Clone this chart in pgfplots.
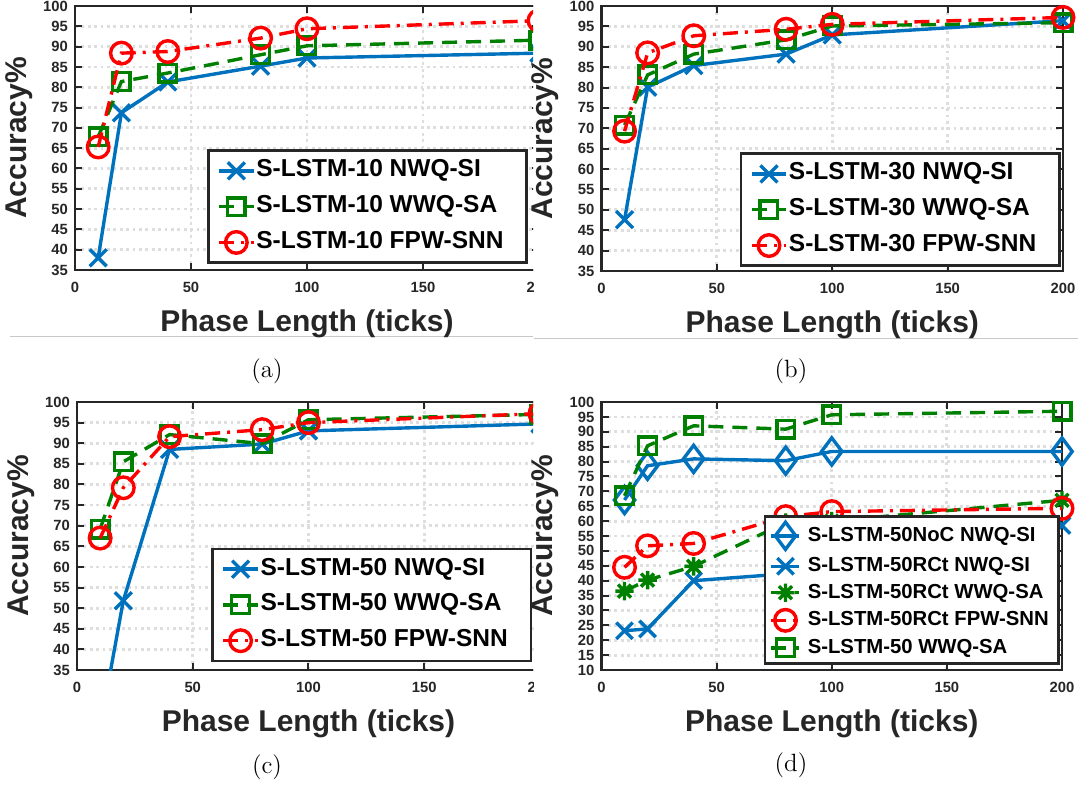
\documentclass[border=0pt]{standalone}
\usepackage{fontspec}
\setsansfont{Liberation Sans}
\usepackage{pgfplots}
\pgfplotsset{compat=1.18}
\definecolor{mblue}{RGB}{0,114,189}
\definecolor{mgreen}{RGB}{0,128,0}
\definecolor{mred}{RGB}{255,0,0}
\definecolor{axc}{RGB}{38,38,38}
\definecolor{gridc}{RGB}{222,222,222}
\definecolor{sepc}{RGB}{200,200,200}

\pgfdeclareplotmark{ast8}{%
  \pgfpathmoveto{\pgfqpoint{-\pgfplotmarksize}{0pt}}%
  \pgfpathlineto{\pgfqpoint{\pgfplotmarksize}{0pt}}%
  \pgfpathmoveto{\pgfqpoint{0pt}{-\pgfplotmarksize}}%
  \pgfpathlineto{\pgfqpoint{0pt}{\pgfplotmarksize}}%
  \pgfpathmoveto{\pgfqpoint{-0.7071\pgfplotmarksize}{-0.7071\pgfplotmarksize}}%
  \pgfpathlineto{\pgfqpoint{0.7071\pgfplotmarksize}{0.7071\pgfplotmarksize}}%
  \pgfpathmoveto{\pgfqpoint{-0.7071\pgfplotmarksize}{0.7071\pgfplotmarksize}}%
  \pgfpathlineto{\pgfqpoint{0.7071\pgfplotmarksize}{-0.7071\pgfplotmarksize}}%
  \pgfusepathqstroke}

\pgfplotsset{
  mplot/.style={
    scale only axis, anchor=south west,
    xmin=0, xmax=200, xtick={0,50,100,150,200},
    axis line style={line width=1.45pt, color=axc},
    tick align=inside, major tick length=3.5pt,
    tick style={line width=1pt, color=axc},
    grid=major,
    major grid style={line width=1.4pt, dash pattern=on 1.4pt off 1.8pt, color=gridc},
    clip mode=individual,
    /pgf/number format/assume math mode=true,
    tick label style={font=\sffamily\bfseries\fontsize{7.4}{8}\selectfont, text=axc},
    xticklabel style={inner sep=0pt, yshift=-6pt},
    yticklabel style={inner sep=0pt, xshift=-3.4pt},
    xlabel={Phase Length (ticks)}, ylabel={Accuracy\%},
    label style={font=\sffamily\bfseries\fontsize{15}{18}\selectfont, text=axc, inner sep=0pt},
    xlabel style={at={(axis description cs:0.5,0)}, anchor=north, yshift=-19.5pt},
    ylabel style={at={(axis description cs:-0.091,0.5)}, anchor=south},
    legend cell align=left,
    legend style={draw=axc, line width=1.3pt, fill=white,
      font=\sffamily\bfseries\fontsize{12.25}{14}\selectfont, text=black,
      inner xsep=4.5pt, inner ysep=4.1pt, row sep=5.9pt,
      nodes={inner sep=0pt, text height=9pt, text depth=3pt}, anchor=south east},
    legend image code/.code={\draw[mark repeat=2,mark phase=2] plot coordinates {(0pt,0pt) (8.6pt,0pt) (17.25pt,0pt)};\path (17.75pt,0pt);},
  },
  nwq/.style={color=mblue, line width=1.7pt, solid, mark=x, mark size=6pt, mark options={solid}},
  wwq/.style={color=mgreen, line width=1.7pt, dash pattern=on 7.5pt off 4.5pt, mark=square, mark size=4.4pt, mark options={solid}},
  fpw/.style={color=mred, line width=1.7pt, dash pattern=on 7.5pt off 3.5pt on 1.5pt off 3.5pt, mark=o, mark size=5.4pt, mark options={solid}},
  noc/.style={color=mblue, line width=1.7pt, solid, mark=diamond, mark size=6.8pt, mark options={solid}},
  rast/.style={color=mgreen, line width=1.7pt, dash pattern=on 7.5pt off 4.5pt, mark=ast8, mark size=4.6pt, mark options={solid}},
}

\begin{document}
\begin{tikzpicture}
\path[use as bounding box] (0pt,0pt) rectangle (542pt,-394pt);
\draw[sepc, line width=0.6pt] (5pt,-168.35pt) -- (266.5pt,-168.35pt);
\draw[sepc, line width=0.6pt] (267pt,-169.15pt) -- (539pt,-169.15pt);

% (a)
\begin{scope}
\clip (-5pt,5pt) rectangle (266.5pt,-170pt);
\begin{axis}[mplot, at={(37.5pt,-135pt)}, width=232pt, height=132pt,
  ymin=35, ymax=100, ytick={35,40,...,100},
  legend style={at={(axis description cs:0.976,0.023)}}]
\addplot[nwq] coordinates {(10,38) (20,73.7) (40,81.3) (80,85.2) (100,87.2) (200,88.4)};
\addplot[wwq] coordinates {(10,67.8) (20,81.4) (40,83.5) (80,88) (100,90.2) (200,91.6)};
\addplot[fpw] coordinates {(10,65.3) (20,88.4) (40,88.8) (80,92.1) (100,94.4) (200,96.4)};
\legend{S-LSTM-10 NWQ-SI\hspace*{7pt}, S-LSTM-10 WWQ-SA\hspace*{7pt}, S-LSTM-10 FPW-SNN\hspace*{7pt}}
\end{axis}
\end{scope}

% (b)
\begin{axis}[mplot, at={(300.75pt,-135.5pt)}, width=230.75pt, height=132.5pt,
  ymin=35, ymax=100, ytick={35,40,...,100},
  legend style={at={(axis description cs:0.9946,0.015)}}]
\addplot[nwq] coordinates {(10,47.6) (20,80.1) (40,85.4) (80,88.2) (100,92.9) (200,96.4)};
\addplot[wwq] coordinates {(10,70.8) (20,83.1) (40,88.2) (80,91.7) (100,95.1) (200,95.9)};
\addplot[fpw] coordinates {(10,69.3) (20,88.5) (40,92.7) (80,94.3) (100,95.5) (200,97.2)};
\legend{S-LSTM-30 NWQ-SI\hspace*{7pt}, S-LSTM-30 WWQ-SA\hspace*{7pt}, S-LSTM-30 FPW-SNN\hspace*{7pt}}
\end{axis}

% (c)
\begin{scope}
\clip (-5pt,-170pt) rectangle (266.5pt,-400pt);
\begin{axis}[mplot, at={(38.5pt,-335pt)}, width=231.5pt, height=134pt,
  ymin=35, ymax=100, ytick={35,40,...,100},
  legend style={at={(axis description cs:0.983,0.029)}}]
\addplot[nwq, mark=none, forget plot] coordinates {(10,21) (20,51.8)};
\addplot[nwq] coordinates {(20,51.8) (40,88.5) (80,89.8) (100,93) (200,94.7)};
\addplot[wwq] coordinates {(10,69.2) (20,85.5) (40,92.1) (80,89.9) (100,95.7) (200,97)};
\addplot[fpw] coordinates {(10,67) (20,79.2) (40,91.6) (80,93.3) (100,95) (200,97.2)};
\legend{S-LSTM-50 NWQ-SI\hspace*{7pt}, S-LSTM-50 WWQ-SA\hspace*{7pt}, S-LSTM-50 FPW-SNN\hspace*{7pt}}
\end{axis}
\end{scope}

% (d)
\begin{axis}[mplot, at={(300.75pt,-335pt)}, width=230.25pt, height=134pt,
  ymin=10, ymax=100, ytick={10,15,...,100},
  legend style={at={(axis description cs:0.9957,0.019)},
    font=\sffamily\bfseries\fontsize{10.15}{12}\selectfont,
    inner xsep=2.35pt, inner ysep=3pt, row sep=3.55pt,
    nodes={inner sep=0pt, text height=7.5pt, text depth=2.2pt}},
  legend image code/.code={\draw[mark repeat=2,mark phase=2] plot coordinates {(0pt,0pt) (7pt,0pt) (14pt,0pt)};\path (17.3pt,0pt);}]
\addplot[noc] coordinates {(10,67.1) (20,78.6) (40,80.9) (80,80.3) (100,83.4) (200,83.4)};
\addplot[nwq, mark size=5.8pt] coordinates {(10,23.2) (20,23.8) (40,40) (80,42.3) (100,44.5) (200,58.5)};
\addplot[rast] coordinates {(10,36.5) (20,40.2) (40,44.8) (80,59.5) (100,60) (200,67)};
\addplot[fpw] coordinates {(10,44.5) (20,51.7) (40,52.5) (80,61.5) (100,63.2) (200,64.3)};
\addplot[wwq] coordinates {(10,68.5) (20,85.3) (40,92) (80,90.9) (100,95.7) (200,96.9)};
\legend{S-LSTM-50NoC NWQ-SI\hspace*{2.65pt}, S-LSTM-50RCt NWQ-SI\hspace*{2.65pt}, S-LSTM-50RCt WWQ-SA\hspace*{2.65pt}, S-LSTM-50RCt FPW-SNN\hspace*{2.65pt}, S-LSTM-50 WWQ-SA\hspace*{2.65pt}}
\end{axis}

\node[font=\fontsize{12.5}{15}\selectfont] at (133.5pt,-185.85pt) {(a)};
\node[font=\fontsize{12.5}{15}\selectfont] at (395.5pt,-185.85pt) {(b)};
\node[font=\fontsize{12.5}{15}\selectfont] at (133.5pt,-383.5pt) {(c)};
\node[font=\fontsize{12.5}{15}\selectfont] at (395.5pt,-382.85pt) {(d)};
\end{tikzpicture}
\end{document}
